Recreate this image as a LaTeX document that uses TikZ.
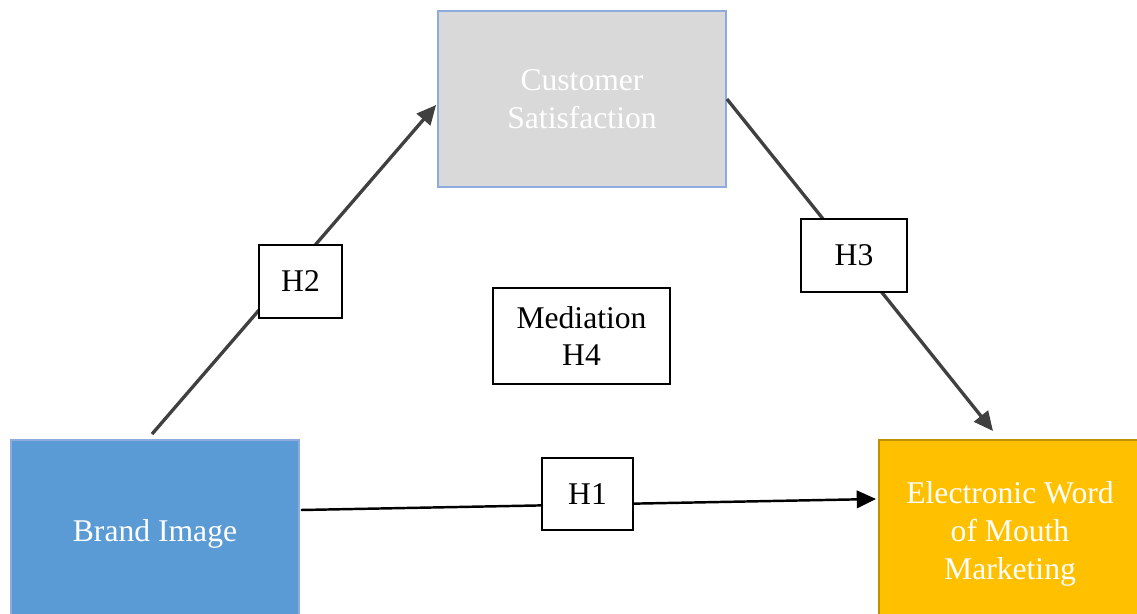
\documentclass[tikz,border=0pt]{standalone}
\usepackage{fontspec}
\setmainfont{Liberation Serif}
\usepackage{tikz}
\usetikzlibrary{arrows.meta,positioning,calc}

\definecolor{csgray}{HTML}{D9D9D9}
\definecolor{csline}{HTML}{8FAADC}
\definecolor{biblue}{HTML}{5B9BD5}
\definecolor{ewgold}{HTML}{FFC000}
\definecolor{ewline}{HTML}{BF9000}
\definecolor{arrgray}{HTML}{404040}

\begin{document}
\begin{tikzpicture}[x=0.02cm,y=-0.02cm]
	\tikzset{var/.style={draw,line width=1.1pt,text=white,align=center,font=\fontsize{18}{21.5}\selectfont},
		hyp/.style={draw,fill=white,line width=0.6pt,align=center,font=\fontsize{18}{21.5}\selectfont},
		link/.style={-{Triangle[length=11pt,width=10pt]},line width=1.9pt,arrgray}}
	\useasboundingbox (0,0) rectangle (1137,613);
	\clip (0,0) rectangle (1137,613);
	\node[var,fill=csgray,draw=csline,minimum width=5.76cm,minimum height=3.52cm] (cs) at (582,99) {Customer\\Satisfaction};
	\node[var,fill=biblue,draw=csline,minimum width=5.76cm,minimum height=3.76cm] (bi) at (155,534) {Brand Image};
	\node[var,fill=ewgold,draw=ewline,minimum width=5.24cm,minimum height=3.76cm] (ew) at (1010,534) {Electronic Word\\of Mouth\\Marketing};
	\path[link]
		($(bi.north)+(-3,-5)$) edge ($(cs.west)+(-1,6)$)
		(cs.east) edge ($(ew.north)+(-17,-8)$);
	\draw[link,black,line width=1.4pt] ($(bi.east)+(1,-24)$) -- ($(ew.west)+(-2,-35)$);
	\node[hyp,minimum width=1.66cm,minimum height=1.46cm] (h2) at (300.5,281.5) {H2};
	\node[hyp,minimum width=2.12cm,minimum height=1.46cm] (h3) at (854,255.5) {H3};
	\node[hyp,minimum width=3.54cm,minimum height=1.92cm] (h4) at (581.5,336) {Mediation\\H4};
	\node[hyp,minimum width=1.82cm,minimum height=1.44cm] (h1) at (587.5,494) {H1};
\end{tikzpicture}
\end{document}
